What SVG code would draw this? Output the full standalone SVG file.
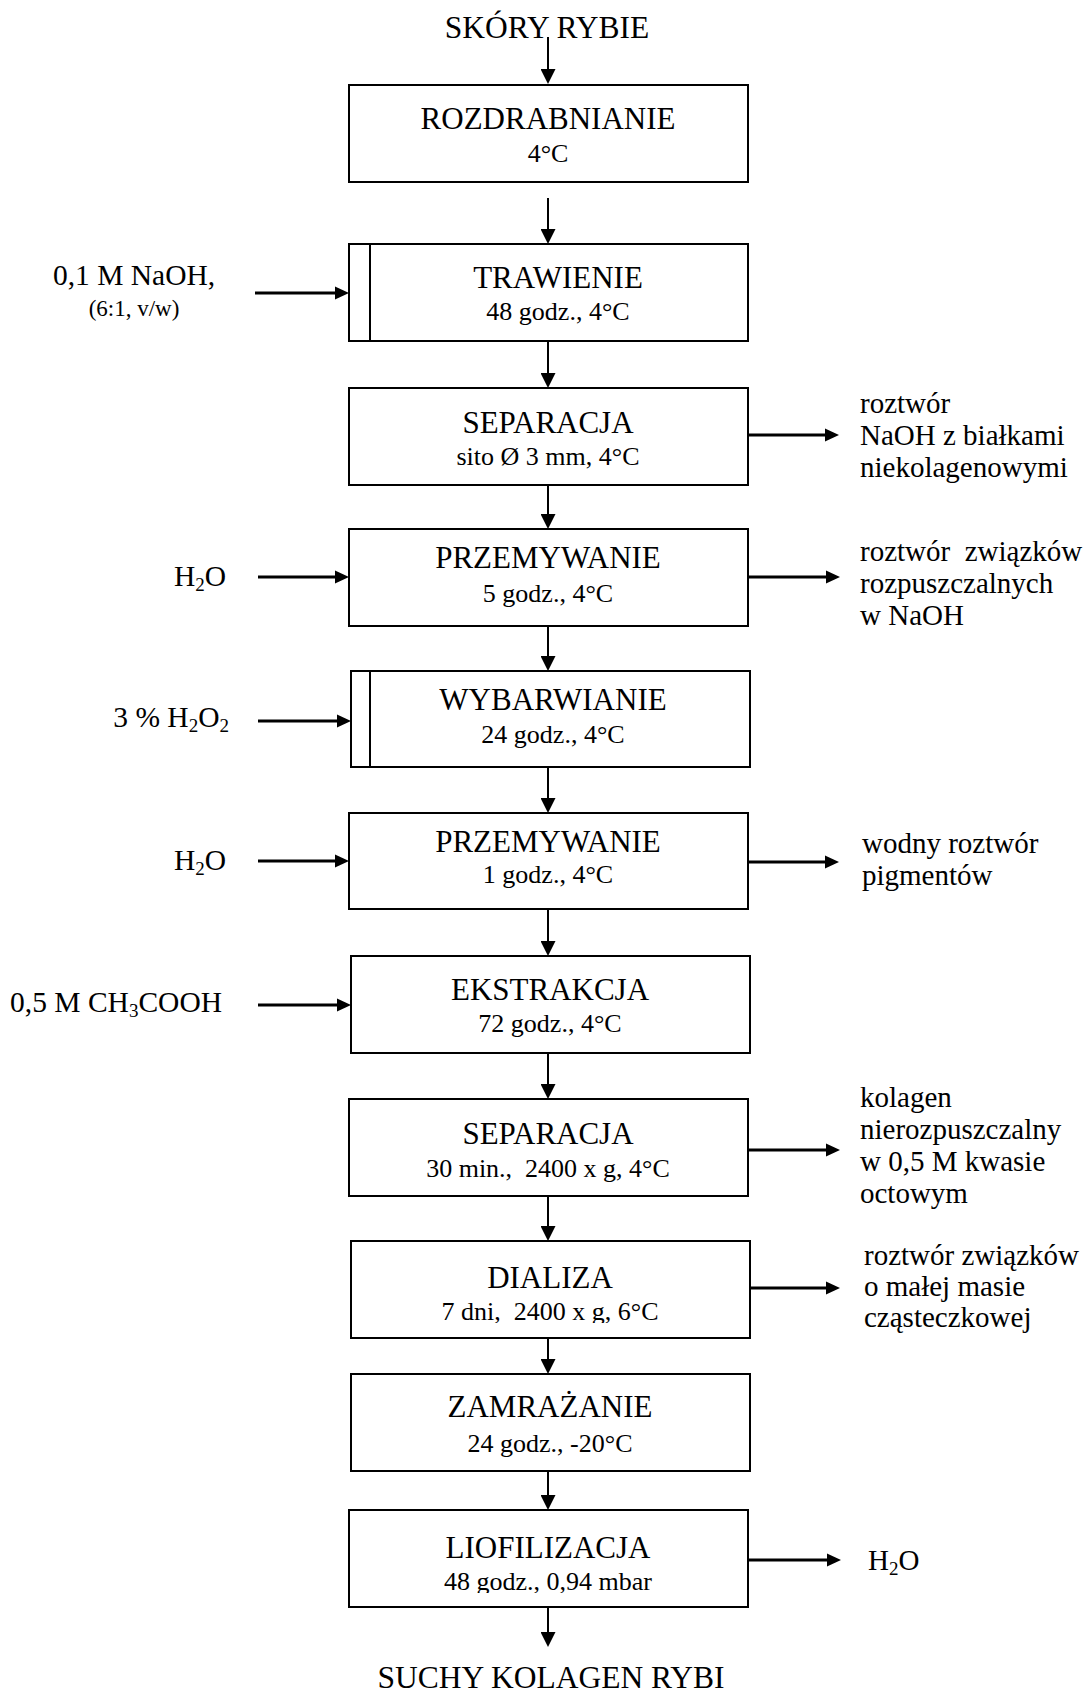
<svg xmlns="http://www.w3.org/2000/svg" width="1087" height="1692" viewBox="0 0 1087 1692">
<style>
text{font-family:"Liberation Serif","Times New Roman",serif;fill:#000}
.t{font-size:31px;text-anchor:middle}
.s{font-size:26px;text-anchor:middle;white-space:pre}
.l{font-size:29px;white-space:pre}
.le{font-size:29.5px;text-anchor:end}
.box{fill:#fff;stroke:#000;stroke-width:2}
.v{stroke:#000;stroke-width:2;fill:none}
.h{stroke:#000;stroke-width:3;fill:none}
</style>
<defs>
<marker id="av" markerUnits="userSpaceOnUse" viewBox="0 0 15 15" markerWidth="15" markerHeight="15" refX="0" refY="7.5" orient="auto"><path d="M0,0 L15,7.5 L0,15 z" fill="#000"/></marker>
<marker id="ah" markerUnits="userSpaceOnUse" viewBox="0 0 14 14" markerWidth="14" markerHeight="14" refX="0" refY="7" orient="auto"><path d="M0,0.5 L14,7 L0,13.5 z" fill="#000"/></marker>
<clipPath id="c9"><rect x="351" y="1241" width="399" height="82"/></clipPath>
<clipPath id="c11"><rect x="349" y="1510" width="399" height="83"/></clipPath>
</defs>

<g id="start"><text class="t" x="547" y="38" style="font-size:31.5px">SKÓRY RYBIE</text></g>

<g id="n1"><rect class="box" x="349" y="85" width="399" height="97"/><text class="t" x="548" y="129">ROZDRABNIANIE</text><text class="s" x="548" y="162">4°C</text></g>
<g id="n2"><rect class="box" x="349" y="244" width="399" height="97"/><line x1="370" y1="244" x2="370" y2="341" stroke="#000" stroke-width="2"/><text class="t" x="558" y="288">TRAWIENIE</text><text class="s" x="558" y="320">48 godz., 4°C</text></g>
<g id="n3"><rect class="box" x="349" y="388" width="399" height="97"/><text class="t" x="548" y="433">SEPARACJA</text><text class="s" x="548" y="465">sito Ø 3 mm, 4°C</text></g>
<g id="n4"><rect class="box" x="349" y="529" width="399" height="97"/><text class="t" x="548" y="568">PRZEMYWANIE</text><text class="s" x="548" y="602">5 godz., 4°C</text></g>
<g id="n5"><rect class="box" x="351" y="671" width="399" height="96"/><line x1="370" y1="671" x2="370" y2="767" stroke="#000" stroke-width="2"/><text class="t" x="553" y="710">WYBARWIANIE</text><text class="s" x="553" y="743">24 godz., 4°C</text></g>
<g id="n6"><rect class="box" x="349" y="813" width="399" height="96"/><text class="t" x="548" y="852">PRZEMYWANIE</text><text class="s" x="548" y="883">1 godz., 4°C</text></g>
<g id="n7"><rect class="box" x="351" y="956" width="399" height="97"/><text class="t" x="550" y="1000">EKSTRAKCJA</text><text class="s" x="550" y="1032">72 godz., 4°C</text></g>
<g id="n8"><rect class="box" x="349" y="1099" width="399" height="97"/><text class="t" x="548" y="1144">SEPARACJA</text><text class="s" x="548" y="1177">30 min.,  2400 x g, 4°C</text></g>
<g id="n9"><rect class="box" x="351" y="1241" width="399" height="97"/><text class="t" x="550" y="1288">DIALIZA</text><text class="s" x="550" y="1320" clip-path="url(#c9)">7 dni,  2400 x g, 6°C</text></g>
<g id="n10"><rect class="box" x="351" y="1374" width="399" height="97"/><text class="t" x="550" y="1417">ZAMRAŻANIE</text><text class="s" x="550" y="1452">24 godz., -20°C</text></g>
<g id="n11"><rect class="box" x="349" y="1510" width="399" height="97"/><text class="t" x="548" y="1558">LIOFILIZACJA</text><text class="s" x="548" y="1590" clip-path="url(#c11)">48 godz., 0,94 mbar</text></g>

<g id="end"><text class="t" x="551" y="1688" style="font-size:31.5px">SUCHY KOLAGEN RYBI</text></g>

<g id="inputs">
<text x="134" y="285" text-anchor="middle" style="font-size:29.5px">0,1 M NaOH,</text>
<text x="134" y="316" text-anchor="middle" style="font-size:23px">(6:1, v/w)</text>
<text class="le" x="226" y="586">H<tspan font-size="19" dy="5">2</tspan><tspan dy="-5">O</tspan></text>
<text class="le" x="229" y="727">3 % H<tspan font-size="19" dy="5">2</tspan><tspan dy="-5">O</tspan><tspan font-size="19" dy="5">2</tspan></text>
<text class="le" x="226" y="870">H<tspan font-size="19" dy="5">2</tspan><tspan dy="-5">O</tspan></text>
<text class="le" x="222" y="1012">0,5 M CH<tspan font-size="19" dy="5">3</tspan><tspan dy="-5">COOH</tspan></text>
</g>

<g id="outputs">
<text class="l" x="860" y="413">roztwór</text>
<text class="l" x="860" y="445">NaOH z białkami</text>
<text class="l" x="860" y="477">niekolagenowymi</text>
<text class="l" x="860" y="561">roztwór  związków</text>
<text class="l" x="860" y="593">rozpuszczalnych</text>
<text class="l" x="860" y="625">w NaOH</text>
<text class="l" x="862" y="853">wodny roztwór</text>
<text class="l" x="862" y="885">pigmentów</text>
<text class="l" x="860" y="1107">kolagen</text>
<text class="l" x="860" y="1139">nierozpuszczalny</text>
<text class="l" x="860" y="1171">w 0,5 M kwasie</text>
<text class="l" x="860" y="1203">octowym</text>
<text class="l" x="864" y="1265">roztwór związków</text>
<text class="l" x="864" y="1296">o małej masie</text>
<text class="l" x="864" y="1327">cząsteczkowej</text>
<text class="l" x="868" y="1570">H<tspan font-size="19" dy="5">2</tspan><tspan dy="-5">O</tspan></text>
</g>

<g id="connectors">
<line class="v" x1="548" y1="37" x2="548" y2="69" marker-end="url(#av)"/>
<line class="v" x1="548" y1="198" x2="548" y2="229" marker-end="url(#av)"/>
<line class="v" x1="548" y1="341" x2="548" y2="373" marker-end="url(#av)"/>
<line class="v" x1="548" y1="485" x2="548" y2="514" marker-end="url(#av)"/>
<line class="v" x1="548" y1="626" x2="548" y2="656" marker-end="url(#av)"/>
<line class="v" x1="548" y1="767" x2="548" y2="798" marker-end="url(#av)"/>
<line class="v" x1="548" y1="909" x2="548" y2="941" marker-end="url(#av)"/>
<line class="v" x1="548" y1="1053" x2="548" y2="1084" marker-end="url(#av)"/>
<line class="v" x1="548" y1="1196" x2="548" y2="1226" marker-end="url(#av)"/>
<line class="v" x1="548" y1="1338" x2="548" y2="1359" marker-end="url(#av)"/>
<line class="v" x1="548" y1="1471" x2="548" y2="1495" marker-end="url(#av)"/>
<line class="v" x1="548" y1="1607" x2="548" y2="1632" marker-end="url(#av)"/>

<line class="h" x1="255" y1="293" x2="335" y2="293" marker-end="url(#ah)"/>
<line class="h" x1="258" y1="577" x2="335" y2="577" marker-end="url(#ah)"/>
<line class="h" x1="258" y1="721" x2="337" y2="721" marker-end="url(#ah)"/>
<line class="h" x1="258" y1="861" x2="335" y2="861" marker-end="url(#ah)"/>
<line class="h" x1="258" y1="1005" x2="337" y2="1005" marker-end="url(#ah)"/>

<line class="h" x1="748" y1="435" x2="825" y2="435" marker-end="url(#ah)"/>
<line class="h" x1="748" y1="577" x2="826" y2="577" marker-end="url(#ah)"/>
<line class="h" x1="748" y1="862" x2="825" y2="862" marker-end="url(#ah)"/>
<line class="h" x1="748" y1="1150" x2="826" y2="1150" marker-end="url(#ah)"/>
<line class="h" x1="750" y1="1288" x2="826" y2="1288" marker-end="url(#ah)"/>
<line class="h" x1="748" y1="1560" x2="827" y2="1560" marker-end="url(#ah)"/>
</g>
</svg>
